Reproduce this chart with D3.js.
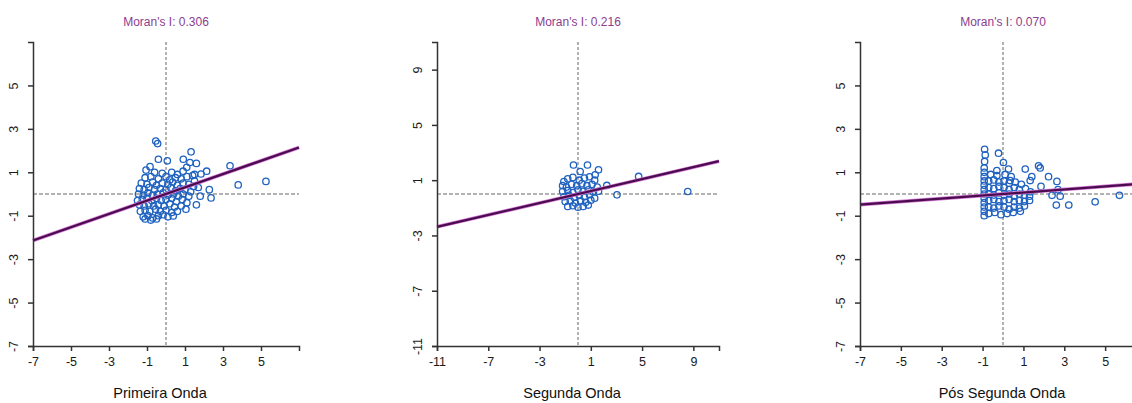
<!DOCTYPE html>
<html>
<head>
<meta charset="utf-8">
<script src="https://cdn.jsdelivr.net/npm/d3@7"></script>
<style>
  body { margin: 0; background: #fff; }
  svg { display: block; font-family: "Liberation Sans", Arial, sans-serif; }
</style>
</head>
<body>
<svg id="chart" width="1132" height="403"></svg>
<script>
// titles / axis labels
var panelNames = ["Primeira Onda", "Segunda Onda", "Pós Segunda Onda"];
var moranI = [0.306, 0.216, 0.070];
var xDomains = [[-7, 7], [-11, 11], [-7, 7]];
var yDomains = [[-7, 7], [-11, 11], [-7, 7]];
var xTicks = [[-7, -5, -3, -1, 1, 3, 5], [-11, -7, -3, 1, 5, 9], [-7, -5, -3, -1, 1, 3, 5]];
var yTicks = [[-7, -5, -3, -1, 1, 3, 5], [-11, -7, -3, 1, 5, 9], [-7, -5, -3, -1, 1, 3, 5]];

// standardized value (x) vs spatial lag (y)
var primeiraOnda = [
  [-0.54,2.44],[-0.44,2.32],[1.32,1.94],[-0.4,1.6],[0.07,1.53],[0.91,1.6],[1.26,1.45],[1.6,1.41],
  [-0.84,1.26],[-1.05,1.1],[1.09,1.23],[3.37,1.3],[1.84,0.92],[2.14,1.05],[3.8,0.42],[5.26,0.58],
  [2.28,0.2],[2.37,-0.18],[0.38,-1.01],
  [-0.6,1.0],[-0.2,0.95],[0.3,1.0],[0.6,0.9],[0.9,1.05],[1.4,0.85],
  [-1.1,0.75],[-0.8,0.8],[-0.4,0.7],[0.0,0.8],[0.2,0.65],[0.5,0.75],[0.8,0.7],[1.1,0.8],[1.5,0.6],
  [-1.3,0.5],[-1.0,0.45],[-0.7,0.55],[-0.5,0.4],[-0.2,0.5],[0.1,0.45],[0.35,0.55],[0.6,0.4],[0.9,0.5],[1.2,0.45],[1.45,0.35],
  [-1.4,0.25],[-1.15,0.2],[-0.9,0.3],[-0.6,0.2],[-0.3,0.25],[0.0,0.2],[0.25,0.3],[0.5,0.15],[0.75,0.25],[1.0,0.2],[1.3,0.1],
  [-1.45,0.0],[-1.2,-0.05],[-0.95,0.05],[-0.7,-0.05],[-0.45,0.0],[-0.15,0.05],[0.1,-0.05],[0.4,0.0],[0.65,-0.1],[0.9,0.0],[1.2,-0.1],
  [-1.5,-0.3],[-1.25,-0.25],[-1.0,-0.2],[-0.75,-0.3],[-0.5,-0.2],[-0.25,-0.3],[0.0,-0.25],[0.3,-0.2],[0.55,-0.35],[0.85,-0.25],[1.1,-0.4],
  [-1.4,-0.5],[-1.15,-0.55],[-0.9,-0.45],[-0.65,-0.55],[-0.4,-0.5],[-0.1,-0.55],[0.2,-0.45],[0.45,-0.6],[0.8,-0.55],[1.05,-0.7],
  [-1.35,-0.8],[-1.1,-0.75],[-0.85,-0.8],[-0.55,-0.7],[-0.3,-0.8],[0.0,-0.75],[0.3,-0.85],[0.6,-0.8],
  [-1.2,-1.05],[-0.95,-1.0],[-0.7,-1.1],[-0.4,-1.0],[-0.15,-0.95],[0.1,-1.05],
  [-1.1,-1.15],[-0.8,-1.2],[-0.5,-1.15],
  [1.7,0.3],[1.8,-0.1],[1.6,-0.5],[1.5,0.9]
];
var segundaOnda = [
  [-0.35,2.1],[0.74,2.1],[0.17,1.63],[1.6,1.75],[1.34,1.39],[4.73,1.27],[3.04,-0.06],[8.56,0.18],[2.25,0.62],
  [-1.1,0.9],[-0.8,1.1],[-0.4,1.2],[0.1,1.0],[0.5,1.15],[0.9,1.25],[1.3,1.0],
  [-1.2,0.6],[-0.9,0.5],[-0.5,0.7],[-0.1,0.6],[0.3,0.75],[0.7,0.6],[1.1,0.7],[1.5,0.5],
  [-1.2,0.2],[-0.8,0.25],[-0.4,0.1],[0.0,0.3],[0.4,0.2],[0.8,0.3],[1.2,0.15],[1.6,0.2],
  [-1.1,-0.2],[-0.7,-0.1],[-0.3,-0.25],[0.1,-0.1],[0.5,-0.2],[0.9,-0.05],[1.3,-0.3],
  [-1.0,-0.55],[-0.6,-0.5],[-0.2,-0.65],[0.2,-0.5],[0.6,-0.6],[1.0,-0.45],
  [-0.8,-0.9],[-0.4,-0.85],[0.0,-0.95],[0.4,-0.9],[0.8,-0.8]
];
var posSegundaOnda = [
  [-0.9,2.06],[-0.87,1.8],[-0.22,1.88],[-0.9,1.5],[-0.92,1.2],[0.02,1.45],[1.09,1.15],[1.74,1.3],
  [1.82,1.2],[2.23,0.8],[2.64,0.58],[1.41,0.8],[1.33,0.62],[1.86,0.35],[2.69,0.2],[2.4,-0.06],
  [2.8,-0.1],[2.61,-0.51],[3.22,-0.51],[4.51,-0.36],[5.7,-0.06],[0.35,0.62],[0.27,1.15],[-0.3,1.08],
  [-0.92,-1.0],[-0.92,-0.8],[-0.92,-0.6],[-0.92,-0.4],[-0.92,-0.2],[-0.92,0.0],[-0.92,0.2],[-0.92,0.4],
  [-0.92,0.6],[-0.92,0.8],[-0.92,1.0],
  [-0.6,0.9],[-0.3,0.85],[0.1,0.9],[0.4,0.8],
  [-0.7,0.6],[-0.45,0.65],[-0.2,0.55],[0.05,0.6],[0.3,0.5],[0.6,0.55],[0.9,0.45],
  [-0.7,0.3],[-0.45,0.25],[-0.2,0.35],[0.05,0.3],[0.3,0.2],[0.55,0.3],[0.8,0.2],[1.1,0.25],[1.35,0.1],
  [-0.7,0.0],[-0.45,-0.05],[-0.2,0.05],[0.05,-0.05],[0.3,0.0],[0.55,-0.1],[0.8,0.0],[1.05,-0.05],[1.3,-0.1],
  [-0.7,-0.3],[-0.45,-0.25],[-0.2,-0.35],[0.05,-0.3],[0.3,-0.25],[0.55,-0.35],[0.8,-0.3],[1.05,-0.35],[1.3,-0.3],
  [-0.7,-0.6],[-0.45,-0.65],[-0.2,-0.55],[0.05,-0.6],[0.3,-0.7],[0.55,-0.6],[0.8,-0.65],[1.05,-0.55],
  [-0.7,-0.9],[-0.4,-0.85],[-0.1,-0.95],[0.2,-0.9],[0.5,-0.85],[0.85,-0.8]
];
var pointSets = [primeiraOnda, segundaOnda, posSegundaOnda];

// where each panel sits on the page
var frames = [
  { left: 33, right: 299, titleX: 160 },
  { left: 437, right: 719, titleX: 572 },
  { left: 860, right: 1146, titleX: 1002 }
];
var plotTop = 42, plotBottom = 346;

var svg = d3.select("#chart");

for (var i = 0; i < frames.length; i++) {
  drawPanel(i);
}

function drawPanel(i) {
  var f = frames[i];
  var x = d3.scaleLinear().domain(xDomains[i]).range([f.left, f.right]);
  var y = d3.scaleLinear().domain(yDomains[i]).range([plotBottom, plotTop]);
  var g = svg.append("g");

  // title
  g.append("text")
    .attr("x", (f.left + f.right) / 2)
    .attr("y", 26)
    .attr("text-anchor", "middle")
    .attr("font-size", 12)
    .attr("fill", "#8b3d8f")
    .text("Moran's I: " + moranI[i].toFixed(3));

  // mean lines
  g.append("line")
    .attr("x1", x(0)).attr("x2", x(0))
    .attr("y1", plotTop).attr("y2", plotBottom)
    .attr("stroke", "#666").attr("stroke-width", 1)
    .attr("stroke-dasharray", "3,2");
  g.append("line")
    .attr("x1", f.left).attr("x2", f.right)
    .attr("y1", y(0)).attr("y2", y(0))
    .attr("stroke", "#666").attr("stroke-width", 1)
    .attr("stroke-dasharray", "4,2");

  // points
  g.append("g").selectAll("circle").data(pointSets[i]).enter()
    .append("circle")
    .attr("cx", function(d) { return x(d[0]) })
    .attr("cy", function(d) { return y(d[1]) })
    .attr("r", 3.2)
    .attr("fill", "none")
    .attr("stroke", "#1f62c0")
    .attr("stroke-width", 1.3);

  // regression line, slope = Moran's I
  var x0 = xDomains[i][0], x1 = xDomains[i][1];
  g.append("line")
    .attr("x1", x(x0)).attr("y1", y(moranI[i] * x0))
    .attr("x2", x(x1)).attr("y2", y(moranI[i] * x1))
    .attr("stroke", "#d77ad7").attr("stroke-width", 3.6);
  g.append("line")
    .attr("x1", x(x0)).attr("y1", y(moranI[i] * x0))
    .attr("x2", x(x1)).attr("y2", y(moranI[i] * x1))
    .attr("stroke", "#4a0c4e").attr("stroke-width", 2.2);

  // axes
  var xAxis = g.append("g")
    .attr("transform", "translate(0," + plotBottom + ")")
    .call(d3.axisBottom(x).tickValues(xTicks[i]).tickFormat(d3.format("d")).tickSizeOuter(0).tickSize(5).tickPadding(6));
  var yAxis = g.append("g")
    .attr("transform", "translate(" + f.left + ",0)")
    .call(d3.axisLeft(y).tickValues(yTicks[i]).tickFormat(d3.format("d")).tickSizeOuter(0).tickSize(5));

  [xAxis, yAxis].forEach(function(a) {
    a.select(".domain").attr("stroke", "#333").attr("stroke-width", 1.5);
    a.selectAll(".tick line").attr("stroke", "#333").attr("stroke-width", 1.5);
    a.selectAll("text").attr("font-size", 12.5).attr("fill", "#1a1a1a")
      .attr("font-family", "Liberation Sans, Arial, sans-serif");
  });
  xAxis.selectAll(".tick text").text(function(d) { return String(d) });
  yAxis.selectAll(".tick text")
    .attr("x", null).attr("dy", null)
    .attr("text-anchor", "middle")
    .attr("transform", "translate(-15,0) rotate(-90)")
    .text(function(d) { return String(d) });

  // axis name
  g.append("text")
    .attr("x", f.titleX)
    .attr("y", 398)
    .attr("text-anchor", "middle")
    .attr("font-size", 14.5)
    .attr("fill", "#111")
    .text(panelNames[i]);
}
</script>
</body>
</html>
